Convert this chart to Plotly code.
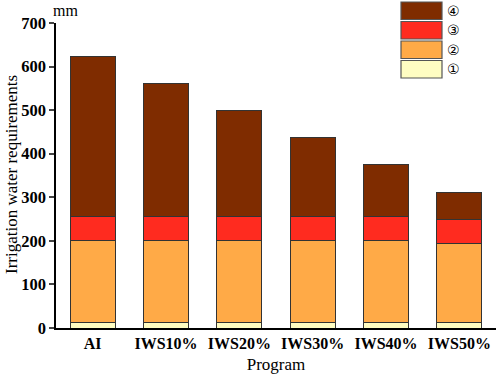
import plotly.graph_objects as go

programs = ["AI", "IWS10%", "IWS20%", "IWS30%", "IWS40%", "IWS50%"]
s1 = [12, 12, 12, 12, 12, 12]
s2 = [188, 188, 188, 188, 188, 182]
s3 = [56, 56, 56, 56, 56, 56]
s4 = [368, 306, 243, 181, 119, 62]
names = ["①", "②", "③", "④"]
colors = ["#FFFDC2", "#FFAA47", "#FF2B1F", "#7F2C00"]

SERIF = "Times New Roman"

fig = go.Figure()
for vals, nm, col in zip([s1, s2, s3, s4], names, colors):
    fig.add_trace(go.Bar(x=programs, y=vals, name=nm, marker_color=col,
                         marker_line=dict(color="#333333", width=1), showlegend=False))

fig.update_layout(
    width=498, height=377,
    margin=dict(l=56, r=2, t=23, b=49),
    plot_bgcolor="white", paper_bgcolor="white",
    barmode="stack", bargap=0.39,
    font=dict(family=SERIF, color="black"),
    xaxis=dict(showline=True, linecolor="black", linewidth=1.5, ticks="",
               automargin=False,
               tickfont=dict(size=16, family=SERIF, weight=700),
               title=dict(text="Program", font=dict(size=17, family=SERIF), standoff=7),
               range=[-0.5, 5.5]),
    yaxis=dict(range=[0, 700], dtick=100, showline=True, linecolor="black", linewidth=1.5,
               automargin=False,
               ticks="outside", ticklen=5, tickwidth=1.5, showgrid=False, zeroline=False,
               tickfont=dict(size=16.5, family=SERIF, weight=700)),
)

pw, ph = 440, 305
def px(x):
    return (x - 56) / pw
def py(y):
    return (328 - y) / ph

leg_top = 2
box_h = 17.5
gap = 2
for i, (nm, col) in enumerate(zip(names[::-1], colors[::-1])):
    top = leg_top + i * (box_h + gap)
    fig.add_shape(type="rect", xref="paper", yref="paper",
                  x0=px(401), x1=px(442), y0=py(top + box_h), y1=py(top),
                  fillcolor=col, line=dict(color="#555555", width=1.2))
    fig.add_annotation(xref="paper", yref="paper", x=px(453), y=py(top + box_h / 2),
                       text=nm, showarrow=False, xanchor="center", yanchor="middle",
                       font=dict(size=14, family="DejaVu Sans", color="black"))

fig.add_annotation(xref="paper", yref="paper", x=px(65), y=py(10), text="mm",
                   showarrow=False, xanchor="center", yanchor="middle",
                   font=dict(size=16, family=SERIF))

fig.add_annotation(xref="paper", yref="paper", x=px(11), y=py(175),
                   text="Irrigation water requirements", textangle=-90,
                   showarrow=False, xanchor="center", yanchor="middle",
                   font=dict(size=17, family=SERIF))

fig.write_html("out.html", config={"displayModeBar": False},
               post_script="document.body.style.margin='0';document.body.style.padding='0';")
